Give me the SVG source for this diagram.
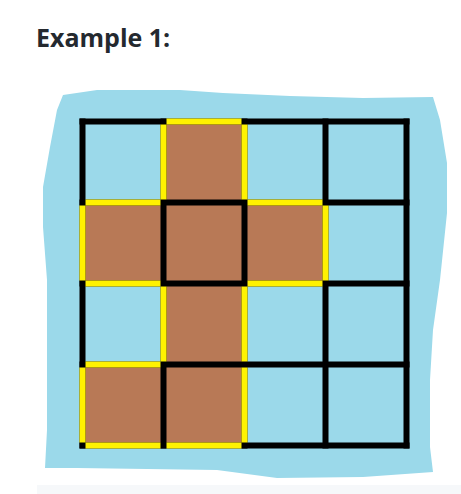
<svg xmlns="http://www.w3.org/2000/svg" width="461" height="494" viewBox="0 0 461 494">
<style>
.title{font-family:"Open Sans","Liberation Sans",sans-serif;font-weight:700;font-size:25px;fill:#24292f}
.blue{fill:#9bd9ea}
.brown{fill:#b87956}
.blk{stroke:#000;stroke-width:6;fill:none;stroke-linecap:square}
.yel{stroke:#fff200;stroke-width:6;fill:none;stroke-linecap:butt}
</style>
<rect x="0" y="0" width="461" height="494" fill="#fff"/>
<text class="title" x="36" y="47">Example 1:</text>
<rect x="37" y="485" width="424" height="9" fill="#f6f8fa"/>
<path id="blob" class="blue" d="M63,95 L97,90 L180,90 L223,93 L290,96 L363,98 L433,97 L440,120 L447,163 L447,213 L440,280 L433,330 L430,380 L430,447 L433,472 L363,477 L277,478 L217,470 L77,468 L45,468 L47,430 L47,380 L47,280 L43,227 L43,187 L50,147 L57,110 Z"/>
<g id="cells">
<rect id="grid-bg" class="blue" x="82.5" y="121.5" width="324" height="324"/>
<rect id="c01" class="brown" x="163.5" y="121.5" width="81" height="81"/>
<rect id="c10" class="brown" x="82.5" y="202.5" width="81" height="81"/>
<rect id="c11" class="brown" x="163.5" y="202.5" width="81" height="81"/>
<rect id="c12" class="brown" x="244.5" y="202.5" width="81" height="81"/>
<rect id="c21" class="brown" x="163.5" y="283.5" width="81" height="81"/>
<rect id="c30" class="brown" x="82.5" y="364.5" width="81" height="81"/>
<rect id="c31" class="brown" x="163.5" y="364.5" width="81" height="81"/>
</g>
<g id="connectors">
<g class="blk">
<path d="M82.5,121.5H406.5M82.5,202.5H406.5M82.5,283.5H406.5M82.5,364.5H406.5M82.5,445.5H406.5"/>
<path d="M82.5,121.5V445.5M163.5,121.5V445.5M244.5,121.5V445.5M325.5,121.5V445.5M406.5,121.5V445.5"/>
</g>
<g class="yel">
<path d="M166.5,121.5H241.5"/>
<path d="M85.5,202.5H160.5M247.5,202.5H322.5"/>
<path d="M85.5,283.5H160.5M247.5,283.5H322.5"/>
<path d="M85.5,364.5H160.5"/>
<path d="M85.5,445.5H160.5M166.5,445.5H241.5"/>
<path d="M82.5,205.5V280.5M82.5,367.5V442.5"/>
<path d="M163.5,124.5V199.5M163.5,286.5V361.5"/>
<path d="M244.5,124.5V199.5M244.5,286.5V361.5M244.5,367.5V442.5"/>
<path d="M325.5,205.5V280.5"/>
</g>
</g>
</svg>
